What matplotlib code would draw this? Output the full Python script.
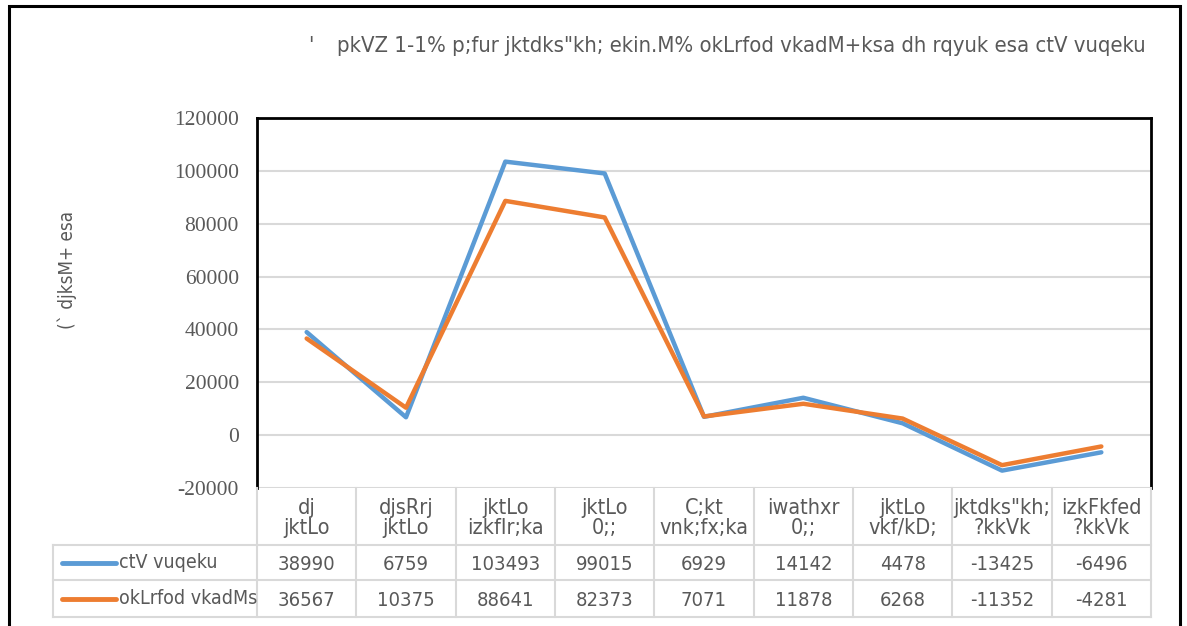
import matplotlib
matplotlib.use("Agg")
import matplotlib.pyplot as plt
from matplotlib.lines import Line2D
from matplotlib.patches import Rectangle
from matplotlib import font_manager

# data
categories = ["dj\njktLo", "djsRrj\njktLo", "jktLo\nizkfIr;ka", "jktLo\n0;;",
              "C;kt\nvnk;fx;ka", "iwathxr\n0;;", "jktLo\nvkf/kD;",
              "jktdks\"kh;\n?kkVk", "izkFkfed\n?kkVk"]
budget = [38990, 6759, 103493, 99015, 6929, 14142, 4478, -13425, -6496]
actual = [36567, 10375, 88641, 82373, 7071, 11878, 6268, -11352, -4281]
series_names = ["ctV vuqeku", "okLrfod vkadMs"]
title = "pkVZ 1-1% p;fur jktdks\"kh; ekin.M% okLrfod vkadM+ksa dh rqyuk esa ctV vuqeku"
ylabel = "(` djksM+ esa"

W, H = 1187, 626
BLUE = "#5B9BD5"
ORANGE = "#ED7D31"
GRAY = "#595959"
GRID = "#D9D9D9"

NARROW = font_manager.FontProperties(family="DejaVu Sans", stretch="condensed")


def fx(x):
    return x / W


def fy(y):
    return 1 - y / H


def txt(x, y, s, size, **kw):
    fp = NARROW.copy()
    fp.set_size(size)
    return fig.text(fx(x), fy(y), s, fontproperties=fp, color=GRAY, **kw)


fig = plt.figure(figsize=(W / 100, H / 100), dpi=100)

# plot area
left, right, top, bottom = 257, 1151, 118, 488
ax = fig.add_axes([fx(left), fy(bottom), fx(right - left), fy(top) - fy(bottom)])
x = list(range(len(categories)))
ax.plot(x, budget, color=BLUE, lw=3.2, solid_capstyle="round", zorder=3)
ax.plot(x, actual, color=ORANGE, lw=3.2, solid_capstyle="round", zorder=4)
ax.set_xlim(-0.5, len(categories) - 0.5)
ax.set_ylim(-20000, 120000)
ax.set_yticks(range(-20000, 120001, 20000))
ax.set_yticklabels([str(v) for v in range(-20000, 120001, 20000)],
                   family="Liberation Serif", fontsize=15.5, color=GRAY)
ax.tick_params(axis="y", length=0, pad=13)
ax.set_xticks([])
ax.yaxis.grid(True, color=GRID, lw=1.5)
ax.set_axisbelow(True)
for s in ["left", "top", "right"]:
    ax.spines[s].set_color("black")
    ax.spines[s].set_linewidth(2)
ax.spines["bottom"].set_visible(False)

txt(67, 270, ylabel, 13.5, rotation=90, ha="center", va="center")
txt(311, 46, "'", 16, ha="center", va="center")
txt(1146, 46, title, 15.8, ha="right", va="center")

# data table under the plot
colw = (right - left) / len(categories)
row_y = [488, 545, 580, 617]
legend_left = 53


def hline(x0, x1, y):
    fig.add_artist(Line2D([fx(x0), fx(x1)], [fy(y), fy(y)], color=GRID, lw=1.5))


def vline(x, y0, y1):
    fig.add_artist(Line2D([fx(x), fx(x)], [fy(y0), fy(y1)], color=GRID, lw=1.5))


for i in range(len(categories) + 1):
    vline(left + i * colw, row_y[0], row_y[3])
vline(legend_left, row_y[1], row_y[3])
hline(legend_left, right, row_y[1])
hline(legend_left, right, row_y[2])
hline(legend_left, right, row_y[3])

for i, cat in enumerate(categories):
    cx = left + (i + 0.5) * colw
    txt(cx, (row_y[0] + row_y[1]) / 2 + 1, cat, 15.5, ha="center", va="center", linespacing=1.0)
    txt(cx, 564, str(budget[i]), 14.5, ha="center", va="center")
    txt(cx, 600, str(actual[i]), 14.5, ha="center", va="center")

for ycen, col, name in [(563, BLUE, series_names[0]), (599, ORANGE, series_names[1])]:
    fig.add_artist(Line2D([fx(62), fx(116)], [fy(ycen), fy(ycen)], color=col, lw=3.5,
                          solid_capstyle="round"))
    txt(119, ycen, name, 14, ha="left", va="center")

# outer frame
fig.add_artist(Rectangle((fx(9), fy(640)), fx(1180 - 9), fy(6) - fy(640),
                         fill=False, ec="black", lw=2.2, clip_on=False))

fig.savefig("out.png", dpi=100)
